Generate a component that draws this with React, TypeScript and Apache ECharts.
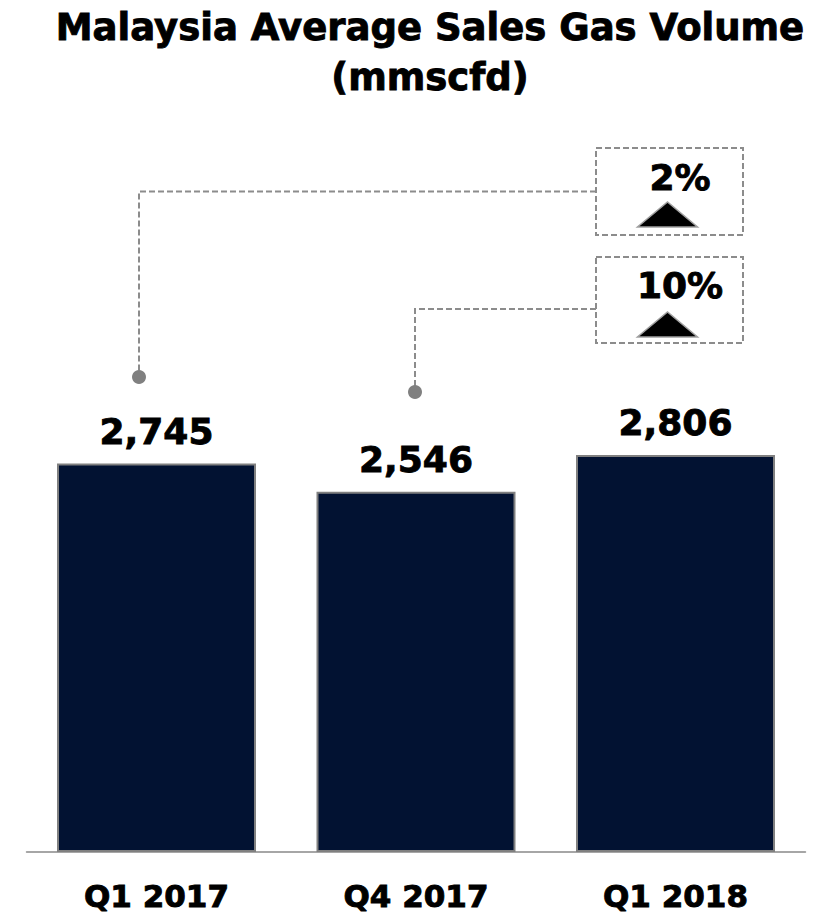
import React, { useEffect, useRef } from "react";
import * as echarts from "echarts";

// Quarterly average sales gas volume, mmscfd
const categories = ["Q1 2017", "Q4 2017", "Q1 2018"];
const volumes = [2745, 2546, 2806];
const yMax = 5000;
const titleLines = ["Malaysia Average Sales Gas Volume", "(mmscfd)"];
// earlier quarters that the latest quarter is compared against
const compareFrom = [0, 1];

const FONT = '"DejaVu Sans", Verdana, sans-serif';
const NAVY = "#021232";
const GREY_LINE = "#8c8c8c";

// call-out boxes and their dashed connectors, in chart pixels
const callouts = [
  { box: [596, 148, 147, 87], joinY: 191.5, dropX: 139, dotY: 377, textY: 177, triBase: 227 },
  { box: [596, 257, 147, 86], joinY: 309, dropX: 415, dotY: 392, textY: 285, triBase: 337 },
];

// a thin outline in the text colour gives the heavier bold face
const heavy = { textBorderColor: "#000", textBorderWidth: 0.9 };

export default function App() {
  const ref = useRef<HTMLDivElement>(null);

  useEffect(() => {
    const chart = echarts.init(ref.current!, null, { renderer: "svg" });
    const latest = volumes[volumes.length - 1];
    const changes = compareFrom.map(
      (i) => Math.round(((latest - volumes[i]) / volumes[i]) * 100) + "%"
    );

    const graphics: any[] = [];
    titleLines.forEach((line, i) => {
      graphics.push({
        type: "text",
        x: 430,
        y: 27 + i * 50.5,
        style: {
          text: line,
          font: `bold 37px ${FONT}`,
          fill: "#000",
          stroke: "#000",
          lineWidth: 0.9,
          textAlign: "center",
          align: "center",
          textVerticalAlign: "middle",
          verticalAlign: "middle",
        },
      });
    });

    callouts.forEach((c, k) => {
      const [bx, by, bw, bh] = c.box;
      const cx = bx + bw / 2 - 2;
      graphics.push({
        type: "polyline",
        shape: {
          points: [
            [bx, c.joinY],
            [c.dropX, c.joinY],
            [c.dropX, c.dotY - 6],
          ],
        },
        style: { stroke: GREY_LINE, lineWidth: 2, lineDash: [6, 3], fill: null },
      });
      graphics.push({
        type: "circle",
        shape: { cx: c.dropX, cy: c.dotY, r: 7 },
        style: { fill: "#808080" },
      });
      graphics.push({
        type: "rect",
        shape: { x: bx, y: by, width: bw, height: bh },
        style: { stroke: GREY_LINE, lineWidth: 2, lineDash: [6, 3], fill: "#fff" },
      });
      graphics.push({
        type: "text",
        x: cx + 12.5,
        y: c.textY,
        style: {
          text: changes[k],
          font: `bold 36px ${FONT}`,
          fill: "#000",
          stroke: "#000",
          lineWidth: 0.9,
          textAlign: "center",
          align: "center",
          textVerticalAlign: "middle",
          verticalAlign: "middle",
        },
      });
      graphics.push({
        type: "polygon",
        shape: {
          points: [
            [cx - 30, c.triBase],
            [cx + 30, c.triBase],
            [cx, c.triBase - 25],
          ],
        },
        style: { fill: "#000", stroke: "#a0a0a0", lineWidth: 1.5 },
      });
    });

    chart.setOption({
      animation: false,
      grid: { left: 26.75, right: 14.75, top: 144.5, bottom: 71, containLabel: false },
      xAxis: {
        type: "category",
        data: categories,
        axisTick: { show: false },
        axisLine: { show: true, lineStyle: { color: "#a6a6a6", width: 2 } },
        axisLabel: {
          margin: 28,
          fontFamily: FONT,
          fontWeight: "bold",
          fontSize: 31,
          color: "#000",
          ...heavy,
        },
      },
      yAxis: {
        type: "value",
        min: 0,
        max: yMax,
        show: false,
        splitLine: { show: false },
      },
      series: [
        {
          type: "bar",
          data: volumes,
          barWidth: 199,
          itemStyle: { color: NAVY, borderColor: "#808080", borderWidth: 2 },
          label: {
            show: true,
            position: "top",
            distance: 14,
            fontFamily: FONT,
            fontWeight: "bold",
            fontSize: 36,
            color: "#000",
            ...heavy,
            formatter: (p: any) => p.value.toLocaleString("en-US"),
          },
        },
      ],
      graphic: graphics,
    });

    return () => chart.dispose();
  }, []);

  return <div ref={ref} style={{ width: 820, height: 923, margin: -8 }} />;
}
